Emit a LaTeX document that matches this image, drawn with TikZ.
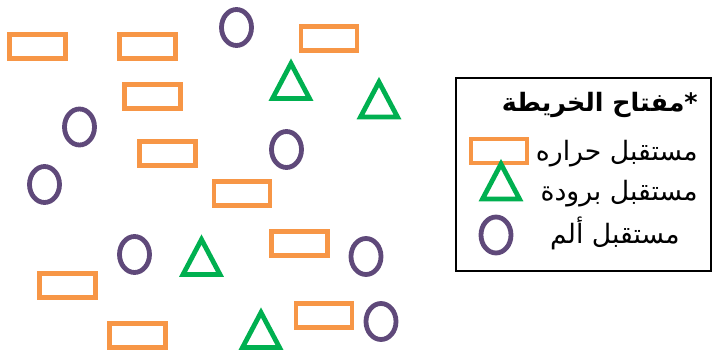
\documentclass[tikz,border=0pt]{standalone}
\usepackage{fontspec}
\newfontfamily\arabicfont[Script=Arabic]{DejaVu Sans}
\TeXXeTstate=1
\definecolor{heatorange}{HTML}{F79646}
\definecolor{coldgreen}{HTML}{00B050}
\definecolor{painpurple}{HTML}{5F497A}
\begin{document}
\begin{tikzpicture}[x=0.75pt,y=-0.75pt,
    heatbox/.style={draw=heatorange,line width=3.6pt},
    coldtri/.style={draw=coldgreen,line width=3.6pt,line join=miter},
    painring/.style={draw=painpurple,line width=3.6pt},
    keytext/.style={anchor=base east,inner sep=0pt,font=\arabicfont\fontsize{20}{24}\selectfont}]
  \useasboundingbox (0,0) rectangle (714,350);
  % heat receptors
  \foreach \x/\y in {37.5/46.5,147.5/46.5,152.5/96.5,167.5/153.5,329/38.5,
      242/193.5,299.5/243.5,67.5/285.5,137.5/335.5,324/315.5,499/151}
    \draw[heatbox] (\x-28,\y-12) rectangle (\x+28,\y+12);
  % cold receptors
  \foreach \x/\y in {291/80,379/98.5,201.5/256,261/329,501/180.5}
    \draw[coldtri] (\x-18.5,\y+18.5) -- (\x+18.5,\y+18.5) -- (\x,\y-16.5) -- cycle;
  % pain receptors
  \foreach \x/\y in {236.5/27.5,79.5/127,286.5/149.5,44.5/184.5,134.5/254.5,
      366/256.5,381/321.5,496/235}
    \draw[painring] (\x,\y) ellipse [x radius=15,y radius=18];
  % key
  \draw[line width=1.5pt] (456,78) rectangle (711,271);
  \node[keytext,font=\arabicfont\bfseries\fontsize{19}{23}\selectfont] (title) at (698,111) {\beginR*مفتاح الخريطة\endR};
  \node[keytext] (heat) at (698,160) {\beginR مستقبل حراره\endR};
  \node[keytext] (cold) at (698,200) {\beginR مستقبل برودة\endR};
  \node[keytext] (pain) at (680,243) {\beginR مستقبل ألم\endR};
\end{tikzpicture}
\end{document}
